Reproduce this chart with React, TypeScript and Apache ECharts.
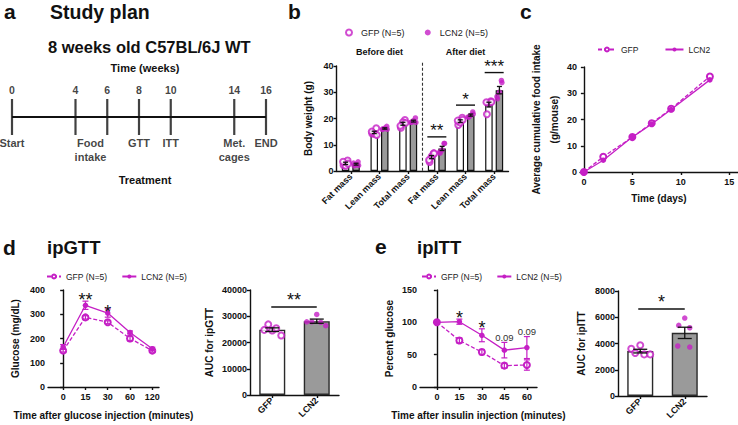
import React, { useEffect, useRef } from 'react';
import * as echarts from 'echarts';

const MAGENTA = '#c51fc5';
const BAR_GRAY = '#9a9a9a';
const INK = '#111111';
const FONT = '"Liberation Sans", Arial, Helvetica, sans-serif';

// ---------------- a: study plan ----------------
const timelineWeeks = [0, 4, 6, 8, 10, 14, 16];
const timelineEvents = ['Start', 'Food\nintake', '', 'GTT', 'ITT', 'Met.\ncages', 'END'];
const timelineLabelShift = [0, 15, 0, 0, 0, 0, 0];

// ---------------- b: body composition ----------------
const bodyCategories = ['Fat mass', 'Lean mass', 'Total mass', 'Fat mass', 'Lean mass', 'Total mass'];
const bodyPhases = ['Before diet', 'After diet'];
const bodyGfpMean = [2.9, 14.7, 18.0, 5.3, 19.0, 25.3];
const bodyGfpSem = [0.45, 0.45, 0.55, 0.6, 0.5, 0.9];
const bodyLcn2Mean = [2.6, 16.2, 19.0, 8.6, 21.3, 30.8];
const bodyLcn2Sem = [0.35, 0.25, 0.35, 0.8, 0.4, 1.4];
const bodyGfpPoints = [
  [2.2, 4.0, 2.0, 3.5, 2.8],
  [14.3, 16.3, 14.2, 15.0, 13.7],
  [16.5, 19.4, 18.6, 17.2, 18.3],
  [3.4, 6.7, 5.5, 4.2, 6.7],
  [17.5, 20.3, 18.5, 19.2, 19.5],
  [21.6, 26.6, 25.8, 26.2, 26.3],
];
const bodyLcn2Points = [
  [2.0, 3.5, 2.4, 3.0, 2.1],
  [16.0, 17.0, 16.3, 15.8, 15.9],
  [18.6, 20.2, 19.2, 18.5, 18.5],
  [6.8, 10.5, 8.0, 7.2, 10.5],
  [20.5, 22.5, 21.2, 20.6, 21.7],
  [27.5, 34.5, 30.0, 28.3, 33.7],
];
const bodySigIndex = [3, 4, 5];
const bodySigLevel = [13.0, 25.1, 37.5];
const bodySigLabel = ['**', '*', '***'];

// ---------------- c: food intake ----------------
const foodDays = [0, 2, 5, 7, 9, 13];
const foodGfp = [0, 5.8, 13.3, 18.6, 24.1, 36.4];
const foodLcn2 = [0, 4.5, 13.3, 18.3, 23.8, 35.1];
const foodTicks = [0, 5, 10, 15];

// ---------------- d: ipGTT ----------------
const gttMinutes = ['0', '15', '30', '60', '120'];
const gttGfpMean = [150, 287, 267, 200, 150];
const gttGfpSem = [6, 7, 6, 10, 6];
const gttLcn2Mean = [165, 337, 305, 225, 158];
const gttLcn2Sem = [10, 17, 17, 6, 6];
const gttNoteIndex = [1, 2];
const gttNoteLevel = [377, 326];
const gttNoteLabel = ['**', '*'];

const aucGroups = ['GFP', 'LCN2'];
const aucGttMean = [24880, 28120];
const aucGttSem = [700, 800];
const aucGttGfpPoints = [24800, 26900, 24600, 25400, 22700];
const aucGttLcn2Points = [27900, 27900, 30700, 27700, 26400];
const aucGttSigLevel = [33500];
const aucGttSigLabel = ['**'];

// ---------------- e: ipITT ----------------
const ittMinutes = ['0', '15', '30', '45', '60'];
const ittGfpMean = [100, 72, 54, 33, 34];
const ittGfpSem = [0, 4, 4, 4, 8];
const ittLcn2Mean = [100, 101, 80, 57, 61];
const ittLcn2Sem = [0, 4, 10, 12, 17];
const ittNoteIndex = [1, 2, 3, 4];
const ittNoteLevel = [112.5, 97, 77, 86.5];
const ittNoteLabel = ['*', '*', '0.09', '0.09'];

const aucIttMean = [3420, 4810];
const aucIttSem = [140, 430];
const aucIttGfpPoints = [3600, 3280, 3860, 3170, 3170];
const aucIttLcn2Points = [5380, 5940, 5200, 3810, 3730];
const aucIttSigLevel = [6630];
const aucIttSigLabel = ['*'];

// ---------------- styling constants ----------------
const JIT_B = [-2, 2, 0, -2.5, 2.5];
const JIT_GTT_G = [-8, -4, 0, 4, 9];
const JIT_GTT_L = [-10, -5, 0, 4, 9];
const JIT_ITT_G = [-9, -5, 0, 4, 10];
const JIT_ITT_L = [-6, 0, 5, -7, 5];
const B_OFFSET = 5.25;

const LEGEND_TEXT: Record<string, string> = {
  bG: 'GFP (N=5)', bL: 'LCN2 (N=5)',
  cG: 'GFP', cL: 'LCN2',
  dG: 'GFP (N=5)', dL: 'LCN2 (N=5)',
  eG: 'GFP (N=5)', eL: 'LCN2 (N=5)',
};

const axisLine = { show: true, lineStyle: { color: INK, width: 1.4 } };
const tickStyle = { color: INK, width: 1.4 };
const labelStyle = { fontSize: 9, fontWeight: 'bold', color: INK, fontFamily: FONT };
const nameStyle = { fontSize: 10, fontWeight: 'bold', color: INK, fontFamily: FONT, lineHeight: 18 };

function valueYAxis(grid: number, min: number, max: number, interval: number, name: string, nameGap: number) {
  return {
    type: 'value', gridIndex: grid, min, max, interval, name, nameLocation: 'middle', nameGap, nameRotate: 90,
    nameTextStyle: nameStyle, axisLine, axisTick: { show: true, length: 3, lineStyle: tickStyle },
    axisLabel: { ...labelStyle, margin: 3, formatter: (v: number) => String(v) }, splitLine: { show: false },
  };
}

function catXAxis(grid: number, data: string[]) {
  return {
    type: 'category', gridIndex: grid, data, boundaryGap: true, axisLine,
    axisTick: { show: true, alignWithLabel: true, interval: 0, length: 3, lineStyle: tickStyle },
    axisLabel: { ...labelStyle, rotate: 45, interval: 0, margin: 4 }, splitLine: { show: false },
  };
}

function indexXAxis(grid: number, labels: string[], min: number, max: number, name: string, nameGap: number) {
  const idx = labels.map((_, i) => i);
  return {
    type: 'value', gridIndex: grid, min, max, name, nameLocation: 'middle', nameGap, nameTextStyle: nameStyle,
    axisLine, axisTick: { show: true, length: 3, lineStyle: tickStyle, customValues: idx },
    axisLabel: { ...labelStyle, margin: 5, customValues: idx, formatter: (v: number) => labels[Math.round(v)] ?? '' },
    splitLine: { show: false },
  };
}

function errorBars(xi: number, xs: number[], means: number[], sems: number[], offset: number, capHalf: number, color: string, lw: number) {
  return {
    type: 'custom', xAxisIndex: xi, yAxisIndex: xi, silent: true, z: 6,
    data: xs.map((x, i) => [x, means[i], sems[i]]),
    renderItem: (params: any, api: any) => {
      const x = api.value(0), m = api.value(1), s = api.value(2);
      if (!s) return null;
      const hi = api.coord([x, m + s]);
      const lo = api.coord([x, m - s]);
      const cx = hi[0] + offset;
      const st = { stroke: color, lineWidth: lw };
      return {
        type: 'group', children: [
          { type: 'line', shape: { x1: cx, y1: hi[1], x2: cx, y2: lo[1] }, style: st },
          { type: 'line', shape: { x1: cx - capHalf, y1: hi[1], x2: cx + capHalf, y2: hi[1] }, style: st },
          { type: 'line', shape: { x1: cx - capHalf, y1: lo[1], x2: cx + capHalf, y2: lo[1] }, style: st },
        ],
      };
    },
  };
}

function sigBrackets(xi: number, starts: number[], ends: number[], levels: number[], labels: string[], padL: number, padR: number, fontSize: number, lift: number) {
  return {
    type: 'custom', xAxisIndex: xi, yAxisIndex: xi, silent: true, z: 7,
    data: starts.map((s, i) => [s, levels[i], ends[i]]),
    renderItem: (params: any, api: any) => {
      const a = api.coord([api.value(0), api.value(1)]);
      const b = api.coord([api.value(2), api.value(1)]);
      const x1 = a[0] + padL, x2 = b[0] + padR, y = a[1];
      return {
        type: 'group', children: [
          { type: 'line', shape: { x1, y1: y, x2, y2: y }, style: { stroke: INK, lineWidth: 1.4 } },
          {
            type: 'text', x: (x1 + x2) / 2, y: y - lift,
            style: { text: labels[params.dataIndex], fontSize, fontFamily: FONT, fill: INK, align: 'center', verticalAlign: 'middle', textAlign: 'center', textVerticalAlign: 'middle' },
          },
        ],
      };
    },
  };
}

function notes(xi: number, xs: number[], levels: number[], labels: string[]) {
  return {
    type: 'custom', xAxisIndex: xi, yAxisIndex: xi, silent: true, z: 7,
    data: xs.map((x, i) => [x, levels[i]]),
    renderItem: (params: any, api: any) => {
      const p = api.coord([api.value(0), api.value(1)]);
      const t = labels[params.dataIndex];
      const star = /^\*+$/.test(t);
      return {
        type: 'text', x: p[0], y: p[1] + (star ? 4 : 0),
        style: {
          text: t, fontSize: star ? 18 : 9.5, fontFamily: FONT, fill: star ? INK : '#333',
          align: 'center', verticalAlign: 'middle', textAlign: 'center', textVerticalAlign: 'middle',
        },
      };
    },
  };
}

function jittered(points: number[], cat: number, base: number, jit: number[]) {
  return points.map((v, k) => ({ value: [cat, v], symbolOffset: [base + jit[k], 0] }));
}

const openPt = { symbol: 'emptyCircle', symbolSize: 6, itemStyle: { color: MAGENTA, borderWidth: 1.3 } };
const fillPt = { symbol: 'circle', symbolSize: 5.5, itemStyle: { color: MAGENTA } };

function buildOption(): any {
  const T = (text: string, x: number, y: number, fontSize: number, extra: any = {}) => ({
    type: 'text', x, y, silent: true,
    style: { text, fontSize, fontWeight: 'bold', fontFamily: FONT, fill: INK, align: 'left', verticalAlign: 'middle', textAlign: 'left', textVerticalAlign: 'middle', ...extra },
  });

  const legendBase = { textStyle: { fontFamily: FONT, color: '#222', fontSize: 8.5 }, formatter: (n: string) => LEGEND_TEXT[n], selectedMode: false };

  const series: any[] = [];

  // a: timeline
  series.push({
    type: 'line', xAxisIndex: 0, yAxisIndex: 0, silent: true, symbol: 'none',
    data: [[timelineWeeks[0], 0], [timelineWeeks[timelineWeeks.length - 1], 0]],
    lineStyle: { color: INK, width: 2 },
  });
  series.push({
    type: 'scatter', xAxisIndex: 0, yAxisIndex: 0, silent: true, symbol: 'rect', symbolSize: [2.2, 36],
    itemStyle: { color: INK }, data: timelineWeeks.map((w) => [w, 0]),
    label: { show: true, position: 'top', distance: 4, formatter: (p: any) => String(p.value[0]), fontSize: 10.5, fontWeight: 'bold', color: INK, fontFamily: FONT },
  });
  series.push({
    type: 'scatter', xAxisIndex: 0, yAxisIndex: 0, silent: true, symbol: 'rect', symbolSize: [2.2, 36],
    itemStyle: { color: 'rgba(0,0,0,0)' },
    data: timelineWeeks.map((w, i) => ({ value: [w, 0], label: { offset: [timelineLabelShift[i], 0] } })),
    label: { show: true, position: 'bottom', distance: 1, formatter: (p: any) => timelineEvents[p.dataIndex], fontSize: 11, fontWeight: 'bold', color: INK, fontFamily: FONT, lineHeight: 14 },
  });

  // b: bars
  const bIdx = bodyCategories.map((_, i) => i);
  series.push({ type: 'bar', name: 'bGbar', xAxisIndex: 1, yAxisIndex: 1, data: bodyGfpMean, barWidth: 7.5, barGap: '40%', itemStyle: { color: '#ffffff', borderColor: INK, borderWidth: 1.2 }, z: 2, silent: true });
  series.push({ type: 'bar', name: 'bLbar', xAxisIndex: 1, yAxisIndex: 1, data: bodyLcn2Mean, barWidth: 7.5, barGap: '40%', itemStyle: { color: BAR_GRAY, borderColor: INK, borderWidth: 1.2 }, z: 2, silent: true });
  series.push({ type: 'scatter', name: 'bG', xAxisIndex: 1, yAxisIndex: 1, ...openPt, z: 4, data: bodyGfpPoints.flatMap((pts, g) => jittered(pts, g, -B_OFFSET, JIT_B)) });
  series.push({ type: 'scatter', name: 'bL', xAxisIndex: 1, yAxisIndex: 1, ...fillPt, z: 4, data: bodyLcn2Points.flatMap((pts, g) => jittered(pts, g, B_OFFSET, JIT_B)) });
  series.push(errorBars(1, bIdx, bodyGfpMean, bodyGfpSem, -B_OFFSET, 2.5, INK, 1.3));
  series.push(errorBars(1, bIdx, bodyLcn2Mean, bodyLcn2Sem, B_OFFSET, 2.5, INK, 1.3));
  series.push(sigBrackets(1, bodySigIndex, bodySigIndex, bodySigLevel, bodySigLabel, -9.5, 9.5, 17, 6));
  series.push({
    type: 'custom', xAxisIndex: 1, yAxisIndex: 1, silent: true, z: 1,
    data: bodyPhases.map((_, i) => [i * 3 + 1, 40]),
    renderItem: (params: any, api: any) => {
      const p = api.coord([api.value(0), api.value(1)]);
      const children: any[] = [
        { type: 'text', x: p[0], y: p[1] - 14, style: { text: bodyPhases[params.dataIndex], fontSize: 9, fontWeight: 'bold', fontFamily: FONT, fill: INK, align: 'center', verticalAlign: 'middle', textAlign: 'center', textVerticalAlign: 'middle' } },
      ];
      if (params.dataIndex === 0) {
        const a = api.coord([2, 41.2]);
        const b = api.coord([3, 0]);
        const x = (a[0] + b[0]) / 2;
        children.push({ type: 'line', shape: { x1: x, y1: a[1], x2: x, y2: b[1] }, style: { stroke: '#333', lineWidth: 1.1, lineDash: [3, 2] } });
      }
      return { type: 'group', children };
    },
  });

  // c: food intake
  series.push({ type: 'line', name: 'cG', xAxisIndex: 2, yAxisIndex: 2, data: foodDays.map((d, i) => [d, foodGfp[i]]), ...openPt, lineStyle: { color: MAGENTA, width: 1.3, type: [4, 2] }, z: 3 });
  series.push({ type: 'line', name: 'cL', xAxisIndex: 2, yAxisIndex: 2, data: foodDays.map((d, i) => [d, foodLcn2[i]]), ...fillPt, lineStyle: { color: MAGENTA, width: 1.3 }, z: 3 });

  // d: ipGTT
  const gIdx = gttMinutes.map((_, i) => i);
  series.push({ type: 'line', name: 'dG', xAxisIndex: 3, yAxisIndex: 3, data: gIdx.map((i) => [i, gttGfpMean[i]]), ...openPt, lineStyle: { color: MAGENTA, width: 1.3, type: [4, 2] }, z: 3 });
  series.push({ type: 'line', name: 'dL', xAxisIndex: 3, yAxisIndex: 3, data: gIdx.map((i) => [i, gttLcn2Mean[i]]), ...fillPt, lineStyle: { color: MAGENTA, width: 1.3 }, z: 3 });
  series.push(errorBars(3, gIdx, gttGfpMean, gttGfpSem, 0, 3, MAGENTA, 1.2));
  series.push(errorBars(3, gIdx, gttLcn2Mean, gttLcn2Sem, 0, 3, MAGENTA, 1.2));
  series.push(notes(3, gttNoteIndex, gttNoteLevel, gttNoteLabel));

  // d: AUC
  series.push({ type: 'bar', xAxisIndex: 4, yAxisIndex: 4, silent: true, barWidth: 26, z: 2, data: aucGttMean.map((v, i) => ({ value: v, itemStyle: { color: i === 0 ? '#ffffff' : BAR_GRAY, borderColor: '#2a2a2a', borderWidth: 1.4 } })) });
  series.push({ type: 'scatter', xAxisIndex: 4, yAxisIndex: 4, silent: true, ...openPt, z: 4, data: jittered(aucGttGfpPoints, 0, 0, JIT_GTT_G) });
  series.push({ type: 'scatter', xAxisIndex: 4, yAxisIndex: 4, silent: true, ...fillPt, z: 4, data: jittered(aucGttLcn2Points, 1, 0, JIT_GTT_L) });
  series.push(errorBars(4, [0, 1], aucGttMean, aucGttSem, 0, 7, INK, 1.3));
  series.push(sigBrackets(4, [0], [1], aucGttSigLevel, aucGttSigLabel, -1, 0, 18, 7));

  // e: ipITT
  const iIdx = ittMinutes.map((_, i) => i);
  series.push({ type: 'line', name: 'eG', xAxisIndex: 5, yAxisIndex: 5, data: iIdx.map((i) => [i, ittGfpMean[i]]), ...openPt, lineStyle: { color: MAGENTA, width: 1.3, type: [4, 2] }, z: 3 });
  series.push({ type: 'line', name: 'eL', xAxisIndex: 5, yAxisIndex: 5, data: iIdx.map((i) => [i, ittLcn2Mean[i]]), ...fillPt, lineStyle: { color: MAGENTA, width: 1.3 }, z: 3 });
  series.push(errorBars(5, iIdx, ittGfpMean, ittGfpSem, 0, 3, MAGENTA, 1.2));
  series.push(errorBars(5, iIdx, ittLcn2Mean, ittLcn2Sem, 0, 3, MAGENTA, 1.2));
  series.push(notes(5, ittNoteIndex, ittNoteLevel, ittNoteLabel));

  // e: AUC
  series.push({ type: 'bar', xAxisIndex: 6, yAxisIndex: 6, silent: true, barWidth: 26, z: 2, data: aucIttMean.map((v, i) => ({ value: v, itemStyle: { color: i === 0 ? '#ffffff' : BAR_GRAY, borderColor: '#2a2a2a', borderWidth: 1.4 } })) });
  series.push({ type: 'scatter', xAxisIndex: 6, yAxisIndex: 6, silent: true, ...openPt, z: 4, data: jittered(aucIttGfpPoints, 0, 0, JIT_ITT_G) });
  series.push({ type: 'scatter', xAxisIndex: 6, yAxisIndex: 6, silent: true, ...fillPt, z: 4, data: jittered(aucIttLcn2Points, 1, 0, JIT_ITT_L) });
  series.push(errorBars(6, [0, 1], aucIttMean, aucIttSem, 0, 7, INK, 1.3));
  series.push(sigBrackets(6, [0], [1], aucIttSigLevel, aucIttSigLabel, -2, 0, 18, 7));

  return {
    animation: false,
    textStyle: { fontFamily: FONT },
    grid: [
      { left: 12, top: 97, width: 254, height: 40 },
      { left: 336.5, top: 66, width: 172, height: 105 },
      { left: 580, top: 67, width: 158, height: 105 },
      { left: 48, top: 290, width: 111, height: 105 },
      { left: 250, top: 290, width: 89, height: 105 },
      { left: 420, top: 290, width: 117, height: 104 },
      { left: 618, top: 291, width: 89, height: 105 },
    ],
    xAxis: [
      { type: 'value', gridIndex: 0, min: 0, max: 16, show: false },
      catXAxis(1, bodyCategories),
      {
        type: 'value', gridIndex: 2, min: -0.4, max: 15.9, name: 'Time (days)', nameLocation: 'middle', nameGap: 17, nameTextStyle: nameStyle,
        axisLine, axisTick: { show: true, length: 3, lineStyle: tickStyle, customValues: foodTicks },
        axisLabel: { ...labelStyle, margin: 5, customValues: foodTicks }, splitLine: { show: false },
      },
      indexXAxis(3, gttMinutes, -0.68, 4.3, 'Time after glucose injection (minutes)', 19),
      catXAxis(4, aucGroups),
      indexXAxis(5, ittMinutes, -0.75, 4.45, 'Time after insulin injection (minutes)', 19),
      catXAxis(6, aucGroups),
    ],
    yAxis: [
      { type: 'value', gridIndex: 0, min: -1, max: 1, show: false },
      valueYAxis(1, 0, 40, 10, 'Body weight (g)', 19),
      valueYAxis(2, 0, 40, 10, 'Average cumulative food intake\n(g/mouse)', 13),
      valueYAxis(3, 0, 400, 100, 'Glucose (mg/dL)', 24),
      valueYAxis(4, 0, 40000, 10000, 'AUC for ipGTT', 32),
      valueYAxis(5, 0, 150, 50, 'Percent glucose', 21),
      valueYAxis(6, 0, 8000, 2000, 'AUC for ipITT', 28),
    ],
    legend: [
      { ...legendBase, left: 340, top: 23, itemWidth: 6, itemHeight: 6, itemGap: 20, data: [{ name: 'bG' }, { name: 'bL' }], textStyle: { ...legendBase.textStyle, fontSize: 9, padding: [0, 0, 0, 4] } },
      { ...legendBase, left: 592, top: 40, itemWidth: 18, itemHeight: 5, itemGap: 26, data: [{ name: 'cG' }, { name: 'cL' }] },
      { ...legendBase, left: 41, top: 267, itemWidth: 14, itemHeight: 5, itemGap: 14, data: [{ name: 'dG' }, { name: 'dL' }] },
      { ...legendBase, left: 416, top: 267, itemWidth: 14, itemHeight: 5, itemGap: 14, data: [{ name: 'eG' }, { name: 'eL' }] },
    ],
    graphic: [
      T('a', 4, 11, 21),
      T('Study plan', 50, 11.5, 19.5),
      T('8 weeks old C57BL/6J WT', 48, 46.5, 16.5),
      T('Time (weeks)', 145, 68.4, 11, { align: 'center', textAlign: 'center' }),
      T('Treatment', 145, 179.7, 11, { align: 'center', textAlign: 'center' }),
      T('b', 288, 11.5, 21),
      T('c', 520, 11.5, 21),
      T('d', 3, 247, 21),
      T('ipGTT', 47, 247.8, 18.5),
      T('e', 375, 246.7, 21),
      T('ipITT', 417, 247, 18.5),
    ],
    series,
  };
}

export default function App() {
  const ref = useRef<HTMLDivElement>(null);
  useEffect(() => {
    if (!ref.current) return;
    const chart = echarts.init(ref.current, null, { renderer: 'svg' });
    chart.setOption(buildOption());
    return () => chart.dispose();
  }, []);
  return <div ref={ref} style={{ position: 'absolute', left: 0, top: 0, width: 738, height: 425, background: '#fff' }} />;
}
